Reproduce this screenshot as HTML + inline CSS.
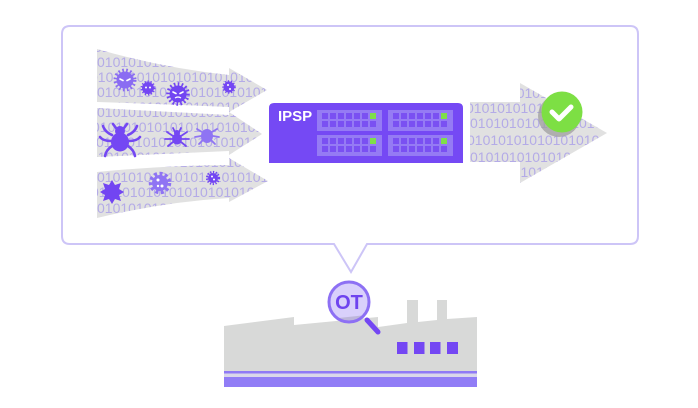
<!DOCTYPE html>
<html><head><meta charset="utf-8">
<style>
html,body{margin:0;padding:0;background:#fff;}
svg{display:block;}
.bin{font-family:"Liberation Sans",sans-serif;font-size:14px;fill:#b4abe7;}
</style></head>
<body>
<svg width="698" height="408" viewBox="0 0 698 408" xmlns="http://www.w3.org/2000/svg">
<defs>
<clipPath id="cTop"><path d="M97,49 Q163,68 229,75 L229,68 L267,90 L229,112 L229,107 Q163,104 97,102 Z"/></clipPath>
<clipPath id="cMid"><path d="M97,108 L229,115 L229,112 L262,134 L229,155 L229,151 L97,157 Z"/></clipPath>
<clipPath id="cBot"><path d="M97,172 Q163,165.5 229,165 L229,158 L268,181 L229,202 L229,198 Q163,202 97,218 Z"/></clipPath>
<clipPath id="cRight"><path d="M470,102 L520,102 L520,83 L607,133 L520,183 L520,162 L470,162 Z"/></clipPath>
<clipPath id="cLens"><circle cx="349" cy="302" r="20"/></clipPath>
</defs>

<!-- speech bubble -->
<path d="M70,26 H630 Q638,26 638,34 V236 Q638,244 630,244 H367 L351,272 L334,244 H70 Q62,244 62,236 V34 Q62,26 70,26 Z" fill="#fff" stroke="#cdc5f7" stroke-width="2"/>

<!-- left arrows -->
<g clip-path="url(#cTop)">
<rect x="90" y="40" width="190" height="80" fill="#e1e1e1"/>
<text class="bin" x="94" y="52">01010101010101010101010101</text>
<text class="bin" x="97" y="67">01010101010101010101010101</text>
<text class="bin" x="90" y="82">01010101010101010101010101</text>
<text class="bin" x="97" y="97">01010101010101010101010101</text>
<text class="bin" x="92" y="112">01010101010101010101010101</text>
</g>
<g clip-path="url(#cMid)">
<rect x="90" y="100" width="190" height="65" fill="#e1e1e1"/>
<text class="bin" x="97" y="117">01010101010101010101010101</text>
<text class="bin" x="92" y="132">01010101010101010101010101</text>
<text class="bin" x="96" y="147">01010101010101010101010101</text>
<text class="bin" x="90" y="162">01010101010101010101010101</text>
</g>
<g clip-path="url(#cBot)">
<rect x="90" y="150" width="190" height="75" fill="#e1e1e1"/>
<text class="bin" x="94" y="167">01010101010101010101010101</text>
<text class="bin" x="97" y="182">01010101010101010101010101</text>
<text class="bin" x="91" y="197">01010101010101010101010101</text>
<text class="bin" x="97" y="213">01010101010101010101010101</text>
<text class="bin" x="92" y="228">01010101010101010101010101</text>
</g>

<!-- bugs: top arrow -->
<g>
<circle cx="125" cy="80" r="8.5" fill="#8a6cf2"/>
<circle cx="125" cy="80" r="9.5" fill="none" stroke="#8a6cf2" stroke-width="4" stroke-dasharray="1.6 2.2"/>
<path d="M120,79 l3,1.5 M130,79 l-3,1.5" stroke="#fff" stroke-width="1.6" stroke-linecap="round"/>

<circle cx="148" cy="88" r="6" fill="#7447f3"/>
<circle cx="148" cy="88" r="6.5" fill="none" stroke="#7447f3" stroke-width="2" stroke-dasharray="1.2 1.8"/>
<circle cx="146" cy="87.5" r="1" fill="#fff"/><circle cx="150" cy="87.5" r="1" fill="#fff"/>

<circle cx="178" cy="94" r="8.5" fill="#7245f2"/>
<circle cx="178" cy="94" r="9.8" fill="none" stroke="#7245f2" stroke-width="4" stroke-dasharray="1.6 2.2"/>
<path d="M173,92 l3,1.5 M183,92 l-3,1.5" stroke="#fff" stroke-width="1.6" stroke-linecap="round"/>
<path d="M175,98 q3,-2 6,0" stroke="#fff" stroke-width="1.2" fill="none"/>

<circle cx="229" cy="87" r="5.5" fill="#7447f3"/>
<circle cx="229" cy="87" r="6" fill="none" stroke="#7447f3" stroke-width="1.6" stroke-dasharray="1.2 1.8"/>
<circle cx="228" cy="85" r="1" fill="#fff"/><circle cx="230" cy="89" r="1" fill="#fff"/>
</g>

<!-- bugs: middle arrow -->
<g stroke="#7447f3" stroke-width="2.6" fill="none" stroke-linecap="round">
<path d="M112,135 q-7,-3 -9,-9 M111,141 q-8,0 -11,-4 M112,146 q-6,4 -7,10 M128,135 q7,-3 9,-9 M129,141 q8,0 11,-4 M128,146 q6,4 7,10"/>
<path d="M116,128 l-3,-4 M124,128 l3,-4"/>
</g>
<ellipse cx="120" cy="142" rx="9" ry="9.5" fill="#7447f3"/>
<circle cx="120" cy="131" r="5" fill="#7447f3"/>

<g stroke="#7447f3" stroke-width="1.8" fill="none" stroke-linecap="round">
<path d="M173,136 l-6,-4 M172,139 l-7,0 M173,142 l-5,4 M181,136 l6,-4 M182,139 l7,0 M181,142 l5,4 M175,132 l-2,-4 M179,132 l2,-4"/>
</g>
<ellipse cx="177" cy="139" rx="5" ry="5.5" fill="#7447f3"/>
<circle cx="177" cy="133" r="3" fill="#7447f3"/>

<g stroke="#8f74f3" stroke-width="1.8" fill="none" stroke-linecap="round">
<path d="M202,132 l-5,-3 M201,136 l-6,1 M203,140 l-4,4 M212,132 l5,-3 M213,136 l6,1 M211,140 l4,4"/>
</g>
<ellipse cx="207" cy="136" rx="6" ry="7" fill="#8f74f3"/>

<!-- bugs: bottom arrow -->
<polygon points="112,180 115,185 121,183 119,189 124,192 119,195 121,201 115,199 112,204 109,199 103,201 105,195 100,192 105,189 103,183 109,185" fill="#7245f2"/>
<circle cx="160" cy="183" r="8" fill="#8f74f3"/>
<circle cx="160" cy="183" r="9.5" fill="none" stroke="#8f74f3" stroke-width="3.5" stroke-dasharray="3 2.5"/>
<circle cx="158" cy="180" r="1.5" fill="#fff"/><circle cx="162" cy="186" r="1.5" fill="#fff"/><circle cx="158" cy="186" r="1.2" fill="#fff"/>
<circle cx="213" cy="178" r="5" fill="#7245f2"/>
<circle cx="213" cy="178" r="6" fill="none" stroke="#7245f2" stroke-width="2.2" stroke-dasharray="1.3 1.5"/>
<circle cx="212" cy="176.5" r="1" fill="#fff"/><circle cx="214" cy="179.5" r="1" fill="#fff"/>

<!-- right arrow -->
<g clip-path="url(#cRight)">
<rect x="465" y="80" width="150" height="110" fill="#e1e1e1"/>
<text class="bin" x="470" y="83">010101010101010101010101</text>
<text class="bin" x="470" y="98">010101010101010101010101</text>
<text class="bin" x="466" y="113">010101010101010101010101</text>
<text class="bin" x="470" y="128">010101010101010101010101</text>
<text class="bin" x="467" y="145">010101010101010101010101</text>
<text class="bin" x="470" y="162">010101010101010101010101</text>
<text class="bin" x="466" y="177">010101010101010101010101</text>
<text class="bin" x="470" y="192">010101010101010101010101</text>
</g>

<!-- check -->
<circle cx="559" cy="116" r="21" fill="#9d9d9d" opacity="0.75"/>
<circle cx="562" cy="112" r="20.5" fill="#7ddf44"/>
<path d="M552,112 l7,7 l12,-12" stroke="#fff" stroke-width="5" fill="none" stroke-linecap="round" stroke-linejoin="round"/>

<!-- IPSP box -->
<path d="M274,103 H458 Q463,103 463,108 V163 H269 V108 Q269,103 274,103 Z" fill="#7549f4"/>
<text x="278" y="121" font-family="Liberation Sans, sans-serif" font-weight="bold" font-size="15" fill="#fff">IPSP</text>
<g id="blk">
<rect x="317" y="110" width="65" height="21" fill="#957bf4"/>
<g fill="#7a50f2">
<rect x="322" y="113" width="6" height="6"/><rect x="330" y="113" width="6" height="6"/><rect x="338" y="113" width="6" height="6"/><rect x="346" y="113" width="6" height="6"/><rect x="354" y="113" width="6" height="6"/><rect x="362" y="113" width="6" height="6"/>
<rect x="322" y="121" width="6" height="6"/><rect x="330" y="121" width="6" height="6"/><rect x="338" y="121" width="6" height="6"/><rect x="346" y="121" width="6" height="6"/><rect x="354" y="121" width="6" height="6"/><rect x="362" y="121" width="6" height="6"/><rect x="370" y="121" width="6" height="6"/>
</g>
<rect x="370" y="113" width="6" height="6" fill="#7ee04a"/>
</g>
<use href="#blk" transform="translate(71,0)"/>
<use href="#blk" transform="translate(0,25)"/>
<use href="#blk" transform="translate(71,25)"/>

<!-- factory -->
<path d="M224,326 L294,317 L294,325 L378,317 L378,327 L407,323 L407,300 L418,300 L418,322 L437,320 L437,300 L447,300 L447,319 L477,317 L477,371 L224,371 Z" fill="#d8d9d8"/>
<rect x="224" y="371" width="253" height="2.5" fill="#8f7af5"/>
<rect x="224" y="373.5" width="253" height="3.5" fill="#d9d7ea"/>
<rect x="224" y="377" width="253" height="10" fill="#917df6"/>
<g fill="#7447f3">
<rect x="397" y="342" width="10.5" height="12"/>
<rect x="414" y="342" width="10.5" height="12"/>
<rect x="430" y="342" width="10.5" height="12"/>
<rect x="447" y="342" width="11" height="12"/>
</g>

<!-- magnifier -->
<line x1="367" y1="320" x2="378" y2="332" stroke="#7447f3" stroke-width="5" stroke-linecap="round"/>
<circle cx="349" cy="302" r="20" fill="#d9d0fb"/>
<g clip-path="url(#cLens)"><path d="M320,320 L394,312 L394,330 L320,330 Z" fill="#bdb6da"/></g>
<circle cx="349" cy="302" r="20" fill="none" stroke="#8d70f4" stroke-width="3"/>
<text x="349" y="309" text-anchor="middle" font-family="Liberation Sans, sans-serif" font-weight="bold" font-size="20" fill="#6f44ef">OT</text>
</svg>
</body></html>
